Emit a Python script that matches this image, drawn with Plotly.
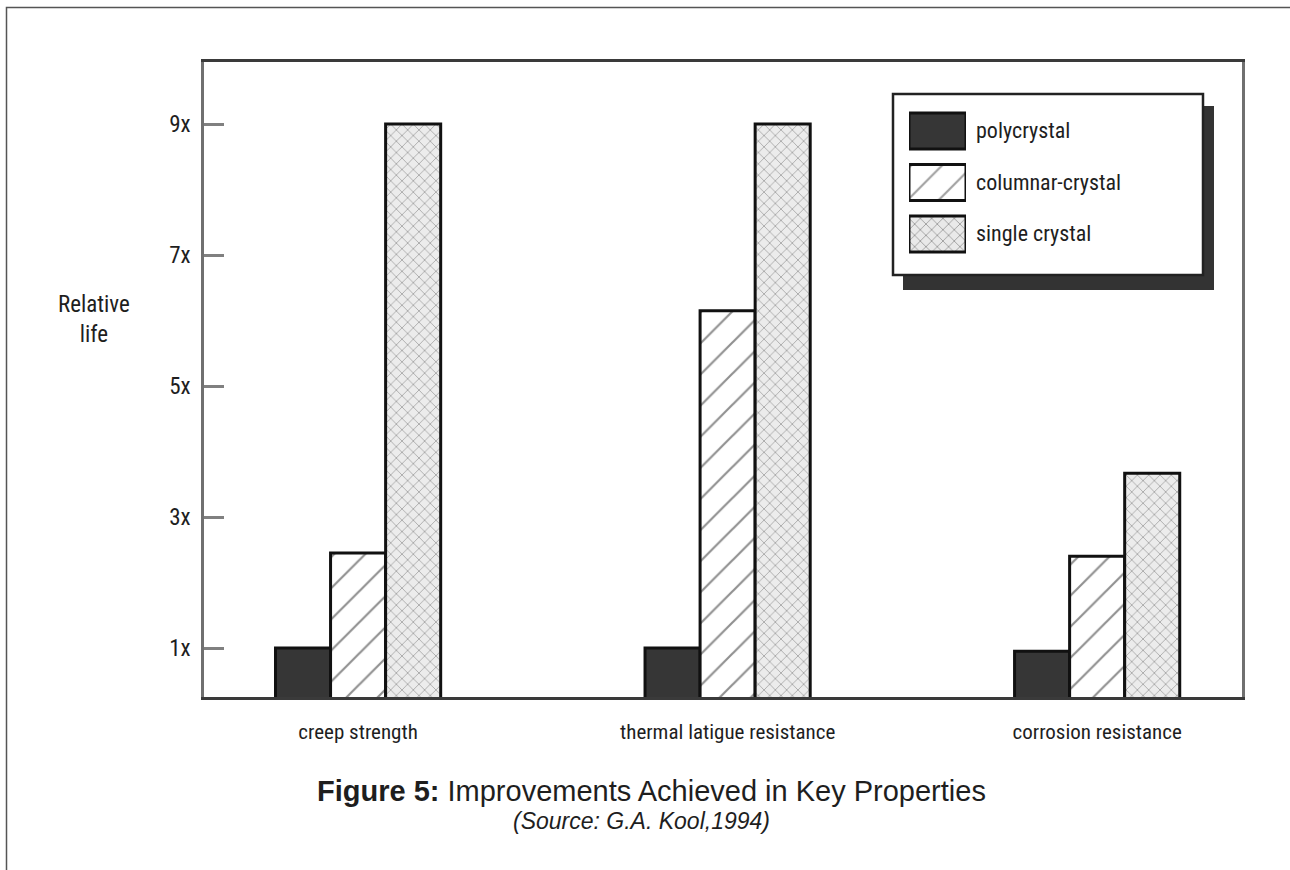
import plotly.graph_objects as go

# ---- data -------------------------------------------------------------
properties = ["creep strength", "thermal latigue resistance", "corrosion resistance"]
series_names = ["polycrystal", "columnar-crystal", "single crystal"]
polycrystal = [1.0, 1.0, 0.95]
columnar_crystal = [2.45, 6.15, 2.4]
single_crystal = [9.0, 9.0, 3.67]
tick_values = [1, 3, 5, 7, 9]
tick_labels = ["1x", "3x", "5x", "7x", "9x"]

# ---- styling ----------------------------------------------------------
NARROW = "Liberation Sans Narrow, Arial Narrow, Roboto Condensed, Liberation Sans, Arial, sans-serif"
SANS = "Liberation Sans, Arial, Helvetica, sans-serif"
INK = "#1e1e1e"

styles = {
    "polycrystal": dict(color="#363636", shape="", fg="#363636", bg="#363636", size=10, solidity=0.1),
    "columnar-crystal": dict(color="white", shape="/", fg="#222222", bg="white", size=22, solidity=0.1),
    "single crystal": dict(color="#e9e9e9", shape="x", fg="#5e5e5e", bg="#ececec", size=8, solidity=0.2),
}


def pattern(name):
    st = styles[name]
    return dict(shape=st["shape"], fgcolor=st["fg"], bgcolor=st["bg"],
                size=st["size"], solidity=st["solidity"])


W, H = 1290, 870
ML, MR, MT, MB = 204, 48, 62, 173
PW, PH = W - ML - MR, H - MT - MB


def px(x):
    return (x - ML) / PW


def py(y):
    return (H - MB - y) / PH


fig = go.Figure()

for name, vals in zip(series_names, [polycrystal, columnar_crystal, single_crystal]):
    fig.add_trace(go.Bar(
        x=properties, y=vals, name=name, showlegend=False,
        marker=dict(color=styles[name]["color"], pattern=pattern(name),
                    line=dict(color="#111111", width=3)),
    ))

# legend key: one swatch bar per series in its own small axes
fig.add_trace(go.Bar(
    x=[1, 1, 1], y=series_names, orientation="h", xaxis="x2", yaxis="y2",
    width=0.7, showlegend=False, hoverinfo="skip",
    marker=dict(
        color=[styles[n]["color"] for n in series_names],
        pattern=dict(
            shape=[styles[n]["shape"] for n in series_names],
            fgcolor=[styles[n]["fg"] for n in series_names],
            bgcolor=[styles[n]["bg"] for n in series_names],
            size=[styles[n]["size"] for n in series_names],
            solidity=[styles[n]["solidity"] for n in series_names],
        ),
        line=dict(color="#111111", width=3),
    ),
))

annotations = []
for n in series_names:
    annotations.append(dict(
        x=1, y=n, xref="x2", yref="y2", text=n, showarrow=False,
        xanchor="left", yanchor="middle", xshift=8,
        font=dict(family=NARROW, size=22, color=INK),
    ))

annotations += [
    dict(x=px(94), y=py(319), xref="paper", yref="paper", text="Relative<br>life",
         xanchor="center", yanchor="middle", showarrow=False,
         font=dict(family=NARROW, size=23, color=INK), align="center"),
    dict(x=px(651), y=py(791), xref="paper", yref="paper",
         text="<b>Figure 5:</b> Improvements Achieved in Key Properties",
         xanchor="center", yanchor="middle", showarrow=False,
         font=dict(family=SANS, size=29, color=INK)),
    dict(x=px(641), y=py(821), xref="paper", yref="paper",
         text="<i>(Source: G.A. Kool,1994)</i>",
         xanchor="center", yanchor="middle", showarrow=False,
         font=dict(family=SANS, size=23, color=INK)),
]

shapes = [
    # page frame
    dict(type="rect", xref="paper", yref="paper", x0=px(6.5), x1=px(1300), y0=py(880), y1=py(7.5),
         line=dict(color="#555555", width=1.5), layer="below"),
    # legend drop shadow and box
    dict(type="rect", xref="paper", yref="paper", x0=px(903), x1=px(1214), y0=py(290), y1=py(106),
         fillcolor="#333333", line=dict(width=0), layer="below"),
    dict(type="rect", xref="paper", yref="paper", x0=px(893), x1=px(1203), y0=py(275), y1=py(94),
         fillcolor="white", line=dict(color="#222222", width=2.5), layer="below"),
]

fig.update_layout(
    width=W, height=H,
    margin=dict(l=ML, r=MR, t=MT, b=MB, pad=0),
    paper_bgcolor="white", plot_bgcolor="white",
    barmode="group", bargap=0.553, bargroupgap=0,
    showlegend=False,
    font=dict(family=NARROW, size=21, color=INK),
    xaxis=dict(
        type="category", range=[-0.417, 2.392],
        showline=True, linecolor="#3a3a3a", linewidth=2.5, mirror=True,
        ticks="", showgrid=False, zeroline=False,
        ticklabelstandoff=14, tickfont=dict(family=NARROW, size=21, color=INK),
    ),
    yaxis=dict(
        range=[0.252, 9.947], tickvals=tick_values, ticktext=tick_labels,
        showline=True, linecolor="#707070", linewidth=2.5, mirror=True,
        ticks="inside", ticklen=20, tickwidth=2.5, tickcolor="#808080",
        showgrid=False, zeroline=False, ticklabelstandoff=6,
        tickfont=dict(family=NARROW, size=23, color=INK),
    ),
    xaxis2=dict(domain=[px(909), px(966)], range=[0, 1], anchor="y2",
                visible=False, fixedrange=True),
    yaxis2=dict(domain=[py(259.75), py(105.25)], anchor="x2", type="category",
                autorange="reversed", visible=False, fixedrange=True),
    annotations=annotations,
    shapes=shapes,
)

fig.write_html("out.html")
